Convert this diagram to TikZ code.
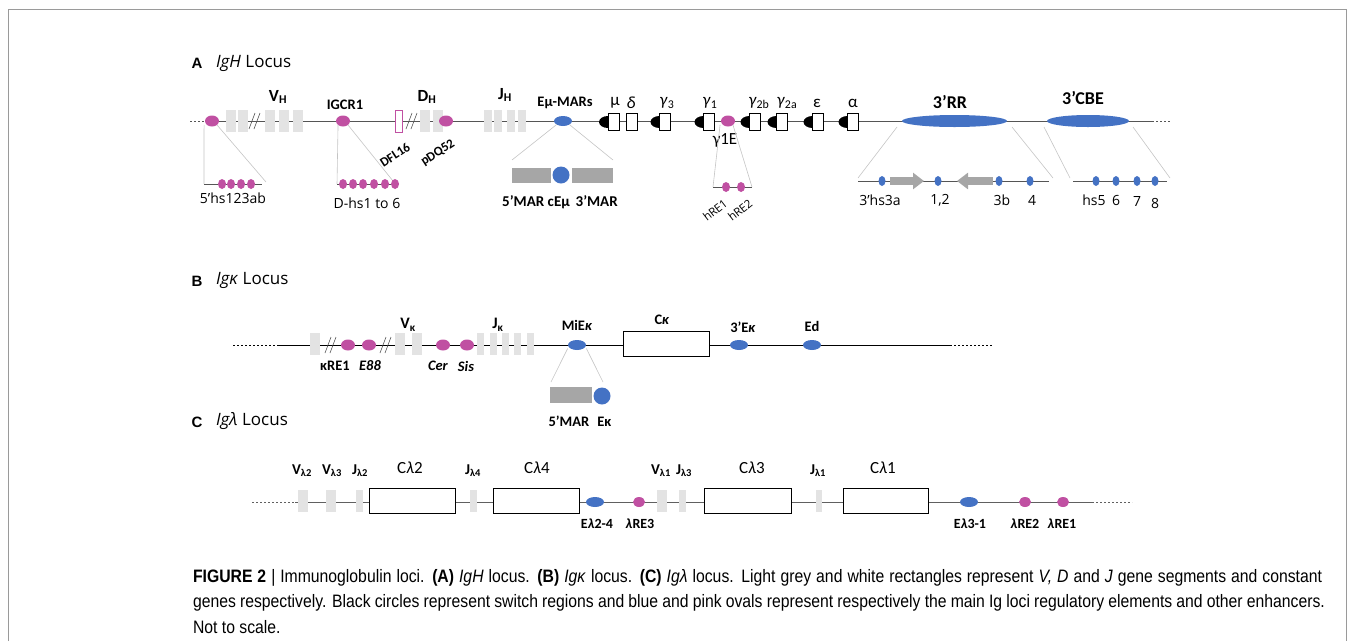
\documentclass[tikz,border=0pt]{standalone}
\usepackage{fontspec}
\setmainfont{Carlito}
\newfontfamily\osfont{Open Sans}
\newfontfamily\arfont{Liberation Sans}
\newfontfamily\capfont[FakeStretch=0.875]{Liberation Sans}
\usetikzlibrary{shapes.geometric}
\usetikzlibrary{arrows.meta}
\usetikzlibrary{positioning}

\definecolor{regpink}{HTML}{C050A2}
\definecolor{regblue}{HTML}{4472C4}
\definecolor{seggrey}{HTML}{E3E3E3}
\definecolor{margrey}{HTML}{A6A6A6}
\definecolor{zoomgrey}{HTML}{C4C4C4}
\definecolor{framegrey}{HTML}{9A9A9A}
\definecolor{lineA}{HTML}{555555}
\definecolor{lineC}{HTML}{606060}

\tikzset{
    every node/.append style={
        inner sep=0pt,
        outer sep=0pt
    },
    locline/.style={
        line width=0.8pt
    },
    locdash/.style={
        line width=0.8pt,
        dash pattern=on 2pt off 2pt
    },
    zoomline/.style={
        draw=zoomgrey,
        line width=0.6pt
    },
    zoomrow/.style={
        draw=lineA,
        line width=0.8pt
    },
    brkline/.style={
        line width=0.6pt,
        draw=lineA
    },
    seg/.style={
        rectangle,
        fill=seggrey,
        minimum width=10pt,
        minimum height=22pt
    },
    dflbox/.style={
        rectangle,
        draw=regpink,
        fill=white,
        line width=0.7pt,
        minimum width=7pt,
        minimum height=22pt
    },
    cgene/.style={
        rectangle,
        draw=black,
        fill=white,
        line width=0.6pt,
        minimum width=11pt,
        minimum height=17pt
    },
    cbox/.style={
        rectangle,
        draw=black,
        fill=white,
        line width=0.6pt,
        minimum width=86pt,
        minimum height=25pt
    },
    pinkreg/.style={
        ellipse,
        fill=regpink,
        minimum width=14pt,
        minimum height=11pt
    },
    bluereg/.style={
        ellipse,
        fill=regblue,
        minimum width=18pt,
        minimum height=10pt
    },
    pinkdot/.style={
        ellipse,
        fill=regpink,
        minimum width=8pt,
        minimum height=10pt
    },
    bluedot/.style={
        ellipse,
        fill=regblue,
        minimum width=7pt,
        minimum height=10pt
    },
    marbox/.style={
        rectangle,
        fill=margrey,
        minimum height=15pt
    },
    hsarrow/.style={
        draw=margrey,
        line width=8pt,
        -{Triangle[length=11pt,width=16pt]}
    },
    lbl/.style={
        font=\fontsize{14.5}{16}\selectfont\bfseries
    },
    seglbl/.style={
        font=\fontsize{17}{18}\selectfont\bfseries
    },
    biglbl/.style={
        font=\fontsize{18}{20}\selectfont\bfseries
    },
    rotlbl/.style={
        font=\fontsize{13}{14}\selectfont\bfseries
    },
    smlbl/.style={
        font=\osfont\fontsize{14}{16}\selectfont
    },
    gklbl/.style={
        font=\fontsize{17}{18}\selectfont
    },
    paneltag/.style={
        font=\arfont\fontsize{15}{16}\selectfont\bfseries
    },
    locustitle/.style={
        anchor=west,
        font=\osfont\fontsize{17}{18}\selectfont
    },
    captext/.style={
        anchor=west,
        font=\capfont\fontsize{18}{20}\selectfont
    }
}

% break mark on a locus line
\newcommand{\brkmark}[1]{\draw[brkline] ([xshift=-6pt,yshift=-8pt]#1) -- ++(6pt,16pt) ([xshift=-1pt,yshift=-8pt]#1) -- ++(6pt,16pt);}
% switch region in front of a constant gene
\newcommand{\swreg}[1]{\fill[black] ([yshift=6pt]#1.west) arc[start angle=90,end angle=270,x radius=9pt,y radius=6pt] -- cycle;}

\begin{document}
\begin{tikzpicture}[x=1pt, y=-1pt]
    \useasboundingbox (0,0) rectangle (1354,641);
    \draw[framegrey, line width=0.8pt] (8,641) -- (8,9) -- (1346,9) -- (1346,641);

    % ---------- A: IgH ----------
    \node[paneltag] (tagA) at (197,63) {A};
    \node[locustitle] (titleA) at (216,63) {\textit{IgH} Locus};
    \coordinate (A0) at (190,121);
    \coordinate (A1) at (205,121);
    \coordinate (A2) at (1152,121);
    \coordinate (A3) at (1170,121);
    \draw[locdash, draw=lineA] (A0) -- (A1);
    \draw[locline, draw=lineA] (A1) -- (A2);
    \draw[locdash, draw=lineA] (A2) -- (A3);

    \node[seg] (vh1) at (231,121) {};
    \node[seg] (vh2) at (243,121) {};
    \coordinate (brk1) at (255,121);
    \brkmark{brk1}
    \node[seg] (vh3) at (270,121) {};
    \node[seg] (vh4) at (284,121) {};
    \node[seg] (vh5) at (298,121) {};
    \node[pinkreg] (hs5p) at (212,121) {};
    \node[seglbl] (VH) at (278,97) {V\textsubscript{H}};

    \node[pinkreg] (igcr) at (343,121) {};
    \node[lbl] (igcrlbl) at (345,105) {IGCR1};
    \node[dflbox] (dfl) at (398.5,121) {};
    \coordinate (brk2) at (412,121);
    \brkmark{brk2}
    \node[seg] (dh1) at (425,121) {};
    \node[seg] (dh2) at (438,121) {};
    \node[pinkreg] (pdq) at (446,121) {};
    \node[seglbl] (DH) at (427,97) {D\textsubscript{H}};
    \node[rotlbl, rotate=33] (dfllbl) at (395,155) {DFL16};
    \node[rotlbl, rotate=33] (pdqlbl) at (438,153) {pDQ52};

    \node[seg, minimum width=8pt] (jh1) at (488,121) {};
    \node[seg, minimum width=8pt] (jh2) at (498,121) {};
    \node[seg, minimum width=8pt] (jh3) at (511,121) {};
    \node[seg, minimum width=8pt] (jh4) at (522,121) {};
    \node[seglbl] (JH) at (505,95) {J\textsubscript{H}};

    \node[bluereg] (emu) at (563,121) {};
    \node[lbl] (emulbl) at (565,103) {Eμ-MARs};

    \node[cgene] (cmu) at (613.5,122) {}; \swreg{cmu}
    \node[cgene] (cdelta) at (632,122) {};
    \node[cgene] (cg3) at (665,122) {}; \swreg{cg3}
    \node[cgene] (cg1) at (709,122) {}; \swreg{cg1}
    \node[pinkreg] (g1e) at (728,121) {};
    \node[cgene] (cg2b) at (755,122) {}; \swreg{cg2b}
    \node[cgene] (cg2a) at (782,122) {}; \swreg{cg2a}
    \node[cgene] (ceps) at (818,122) {}; \swreg{ceps}
    \node[cgene] (calpha) at (853,122) {}; \swreg{calpha}
    \node[gklbl] (mulbl) at (615,103) {μ};
    \node[gklbl] (deltalbl) at (631,103) {\textit{δ}};
    \node[gklbl] (g3lbl) at (667,103) {\textit{γ}\textsubscript{3}};
    \node[gklbl] (g1lbl) at (710,103) {\textit{γ}\textsubscript{1}};
    \node[gklbl] (g2blbl) at (759,103) {\textit{γ}\textsubscript{2b}};
    \node[gklbl] (g2albl) at (787,103) {\textit{γ}\textsubscript{2a}};
    \node[gklbl] (epslbl) at (817,103) {ε};
    \node[gklbl] (alphalbl) at (853,103) {α};
    \node[gklbl] (g1elbl) at (725,140) {γ1E};

    \node[ellipse, fill=regblue, minimum width=105pt, minimum height=12pt] (rr) at (954.5,121) {};
    \node[biglbl] (rrlbl) at (950,102) {3’RR};
    \node[ellipse, fill=regblue, minimum width=82pt, minimum height=12pt] (cbe) at (1088,121) {};
    \node[biglbl] (cbelbl) at (1083,98) {3’CBE};

    % 5'hs123ab
    \coordinate (hsL) at (204,184);
    \coordinate (hsR) at (262,184);
    \coordinate (hsRz) at (266,182);
    \draw[zoomline] ([xshift=-3pt]hs5p.south west) -- (hsL);
    \draw[zoomline] (hs5p.south east) -- (hsRz);
    \draw[zoomrow] (hsL) -- (hsR);
    \foreach \x [count=\i] in {222,231,241,251}
        \node[pinkdot] (hsd\i) at (\x,184) {};
    \node[smlbl] (hslbl) at (233,198) {5’hs123ab};

    % D-hs
    \coordinate (dhsL) at (337,184);
    \coordinate (dhsR) at (398,184);
    \coordinate (dhsRz) at (393,181);
    \draw[zoomline] (igcr.south west) -- (dhsL);
    \draw[zoomline] (igcr.south east) -- (dhsRz);
    \draw[zoomrow] (dhsL) -- (dhsR);
    \foreach \x [count=\i] in {343,353,363,374,385,395}
        \node[pinkdot] (dhsd\i) at (\x,184) {};
    \node[smlbl] (dhslbl) at (367,203) {D-hs1 to 6};

    % MARs
    \coordinate (marL) at (512,160);
    \coordinate (marR) at (613,160);
    \draw[zoomline] (emu.south west) -- (marL);
    \draw[zoomline] (emu.south east) -- (marR);
    \node[marbox, minimum width=39pt] (mar5) at (531.5,175.5) {};
    \node[circle, fill=regblue, minimum size=17pt] (cemu) at (561,175) {};
    \node[marbox, minimum width=41pt] (mar3) at (592.5,175.5) {};
    \node[lbl, font=\fontsize{15}{16}\selectfont\bfseries] (marlbl) at (560,202) {5’MAR cEμ\, 3’MAR};

    % hRE
    \coordinate (hreL) at (713,187);
    \coordinate (hreR) at (752,187);
    \draw[zoomline] ([xshift=-3pt]g1e.south west) -- (hreL);
    \draw[zoomline] (g1e.south east) -- (hreR);
    \draw[zoomrow] (hreL) -- (hreR);
    \node[pinkdot] (hre1) at (726,187) {};
    \node[pinkdot] (hre2) at (741,187) {};
    \node[smlbl, font=\osfont\fontsize{11.5}{12}\selectfont, rotate=38] (hre1lbl) at (715,210) {hRE1};
    \node[smlbl, font=\osfont\fontsize{11.5}{12}\selectfont, rotate=38] (hre2lbl) at (740,210) {hRE2};

    % 3'RR
    \coordinate (rrL) at (858,181);
    \coordinate (rrR) at (1049,181);
    \coordinate (rrLz) at (858,178);
    \coordinate (rrRz) at (1053,178);
    \draw[zoomline] ([xshift=-5pt,yshift=-6pt]rr.west) -- (rrLz);
    \draw[zoomline] ([xshift=5pt,yshift=-6pt]rr.east) -- (rrRz);
    \draw[zoomrow] (rrL) -- (rrR);
    \coordinate (ar1a) at (890,181);
    \coordinate (ar1b) at (924,181);
    \coordinate (ar2a) at (993,181);
    \coordinate (ar2b) at (957,181);
    \draw[hsarrow] (ar1a) -- (ar1b);
    \draw[hsarrow] (ar2a) -- (ar2b);
    \foreach \x [count=\i] in {882,938,999,1030}
        \node[bluedot] (rrd\i) at (\x,181) {};
    \node[smlbl] (hs3albl) at (880,200) {3’hs3a};
    \node[smlbl] (hs12lbl) at (940,200) {1,2};
    \node[smlbl] (hs3blbl) at (1002,200) {3b};
    \node[smlbl] (hs4lbl) at (1032,200) {4};

    % 3'CBE
    \coordinate (cbeL) at (1073,181);
    \coordinate (cbeR) at (1167,181);
    \coordinate (cbeLz) at (1070,178);
    \coordinate (cbeRz) at (1170,178);
    \draw[zoomline] ([xshift=-3pt,yshift=-6pt]cbe.west) -- (cbeLz);
    \draw[zoomline] ([xshift=4pt,yshift=-6pt]cbe.east) -- (cbeRz);
    \draw[zoomrow] (cbeL) -- (cbeR);
    \foreach \x [count=\i] in {1096,1116,1137,1155}
        \node[bluedot] (cbed\i) at (\x,181) {};
    \node[smlbl] (hs5lbl) at (1094,200) {hs5};
    \node[smlbl] (hs6lbl) at (1116,200) {6};
    \node[smlbl] (hs7lbl) at (1137,201) {7};
    \node[smlbl] (hs8lbl) at (1155,203) {8};

    % ---------- B: Igk ----------
    \node[paneltag] (tagB) at (197,281) {B};
    \node[locustitle] (titleB) at (216,280) {\textit{Igκ} Locus};
    \coordinate (B0) at (233,345);
    \coordinate (B1) at (277,345);
    \coordinate (B2) at (950,345);
    \coordinate (B3) at (992,345);
    \draw[locdash] (B0) -- (B1);
    \draw[locline] (B1) -- (B2);
    \draw[locdash] (B2) -- (B3);

    \node[seg] (vk1) at (315,344) {};
    \coordinate (brk3) at (331,345);
    \brkmark{brk3}
    \node[pinkreg] (kre1) at (348,345) {};
    \node[pinkreg] (e88) at (369,345) {};
    \coordinate (brk4) at (386,345);
    \brkmark{brk4}
    \node[seg] (vk2) at (400,344) {};
    \node[seg] (vk3) at (417,344) {};
    \node[pinkreg] (cer) at (443,345) {};
    \node[pinkreg] (sis) at (467,345) {};
    \foreach \x [count=\i] in {480.5,493,505,517.5,530}
        \node[seg, minimum width=7pt] (jk\i) at (\x,344) {};
    \node[seglbl, font=\fontsize{16}{18}\selectfont\bfseries] (Vk) at (408,325) {V\textsubscript{κ}};
    \node[seglbl, font=\fontsize{16}{18}\selectfont\bfseries] (Jk) at (498,325) {J\textsubscript{κ}};
    \node[lbl] (kre1lbl) at (335,366) {κRE1};
    \node[lbl] (e88lbl) at (370,366) {\textit{E88}};
    \node[lbl] (cerlbl) at (438,366) {\textit{Cer}};
    \node[lbl] (sislbl) at (466,366) {\textit{Sis}};

    \node[bluereg] (mie) at (577,345) {};
    \node[lbl] (mielbl) at (577,325) {MiE\textit{κ}};
    \node[cbox] (ck) at (666,343.5) {};
    \node[lbl] (cklbl) at (662,320) {C\textit{κ}};
    \node[bluereg] (e3k) at (739,345) {};
    \node[lbl] (e3klbl) at (743,327) {3’E\textit{κ}};
    \node[bluereg] (ed) at (812,345) {};
    \node[lbl] (edlbl) at (812,326) {Ed};

    \coordinate (mieL) at (551,382);
    \coordinate (mieR) at (603,382);
    \draw[zoomline] ([xshift=-3pt]mie.south west) -- (mieL);
    \draw[zoomline] ([xshift=3pt]mie.south east) -- (mieR);
    \node[marbox, minimum width=42pt, minimum height=16pt] (mar5k) at (571,395) {};
    \node[circle, fill=regblue, minimum size=17pt] (ek) at (602,396) {};
    \node[lbl] (marklbl) at (580,421) {5’MAR\,\, Eκ};

    % ---------- C: Igl ----------
    \node[paneltag] (tagC) at (197,422) {C};
    \node[locustitle] (titleC) at (216,421) {\textit{Igλ} Locus};
    \coordinate (C0) at (252,502);
    \coordinate (C1) at (295,502);
    \coordinate (C2) at (1092,502);
    \coordinate (C3) at (1132,502);
    \draw[locdash, draw=lineC] (C0) -- (C1);
    \draw[locline, draw=lineC] (C1) -- (C2);
    \draw[locdash, draw=lineC] (C2) -- (C3);

    \node[seg] (vl2) at (303,501) {};
    \node[seg] (vl3) at (331,501) {};
    \node[seg, minimum width=7pt] (jl2) at (359.5,501) {};
    \node[cbox] (cl2) at (412,500.5) {};
    \node[seg, minimum width=7pt] (jl4) at (473.5,501) {};
    \node[cbox] (cl4) at (536,500.5) {};
    \node[bluereg] (el24) at (595,502) {};
    \node[pinkreg, minimum width=12pt, minimum height=10pt] (lre3) at (639,502) {};
    \node[seg] (vl1) at (661.5,501) {};
    \node[seg, minimum width=7pt] (jl3) at (682.5,501) {};
    \node[cbox, minimum width=87pt] (cl3) at (747.5,500.5) {};
    \node[seg, minimum width=6pt] (jl1) at (819,501) {};
    \node[cbox, minimum width=85pt] (cl1) at (885.5,500.5) {};
    \node[bluereg] (el31) at (969,502) {};
    \node[pinkreg, minimum width=12pt, minimum height=10pt] (lre2) at (1025,502) {};
    \node[pinkreg, minimum width=12pt, minimum height=10pt] (lre1) at (1063,502) {};

    \node[lbl, font=\fontsize{15}{16}\selectfont\bfseries] (vl2lbl) at (302,471) {V\textsubscript{λ2}};
    \node[lbl, font=\fontsize{15}{16}\selectfont\bfseries] (vl3lbl) at (332,471) {V\textsubscript{λ3}};
    \node[lbl, font=\fontsize{15}{16}\selectfont\bfseries] (jl2lbl) at (360,471) {J\textsubscript{λ2}};
    \node[gklbl] (cl2lbl) at (410,468) {C\textit{λ}2};
    \node[lbl, font=\fontsize{15}{16}\selectfont\bfseries] (jl4lbl) at (473,471) {J\textsubscript{λ4}};
    \node[gklbl] (cl4lbl) at (537,468) {C\textit{λ}4};
    \node[lbl, font=\fontsize{15}{16}\selectfont\bfseries] (vl1lbl) at (661,471) {V\textsubscript{λ1}};
    \node[lbl, font=\fontsize{15}{16}\selectfont\bfseries] (jl3lbl) at (684,471) {J\textsubscript{λ3}};
    \node[gklbl] (cl3lbl) at (752,468) {C\textit{λ}3};
    \node[lbl, font=\fontsize{15}{16}\selectfont\bfseries] (jl1lbl) at (818,471) {J\textsubscript{λ1}};
    \node[gklbl] (cl1lbl) at (883,468) {C\textit{λ}1};

    \node[lbl, font=\fontsize{14}{16}\selectfont\bfseries] (el24lbl) at (597,524) {E\textit{λ}2-4};
    \node[lbl, font=\fontsize{14}{16}\selectfont\bfseries] (lre3lbl) at (640,524) {\textit{λ}RE3};
    \node[lbl, font=\fontsize{14}{16}\selectfont\bfseries] (el31lbl) at (970,524) {E\textit{λ}3-1};
    \node[lbl, font=\fontsize{14}{16}\selectfont\bfseries] (lre2lbl) at (1025,524) {\textit{λ}RE2};
    \node[lbl, font=\fontsize{14}{16}\selectfont\bfseries] (lre1lbl) at (1062,524) {\textit{λ}RE1};

    % ---------- caption ----------
    \node[captext] (cap1) at (193,578) {\makebox[1129pt][s]{\textbf{FIGURE 2} | Immunoglobulin loci. \textbf{(A)} \textit{IgH} locus. \textbf{(B)} \textit{Igκ} locus. \textbf{(C)} \textit{Igλ} locus. Light grey and white rectangles represent \textit{V, D} and \textit{J} gene segments and constant}};
    \node[captext] (cap2) at (193,603) {\makebox[1132pt][s]{genes respectively. Black circles represent switch regions and blue and pink ovals represent respectively the main Ig loci regulatory elements and other enhancers.}};
    \node[captext] (cap3) at (193,627) {Not to scale.};
\end{tikzpicture}
\end{document}
